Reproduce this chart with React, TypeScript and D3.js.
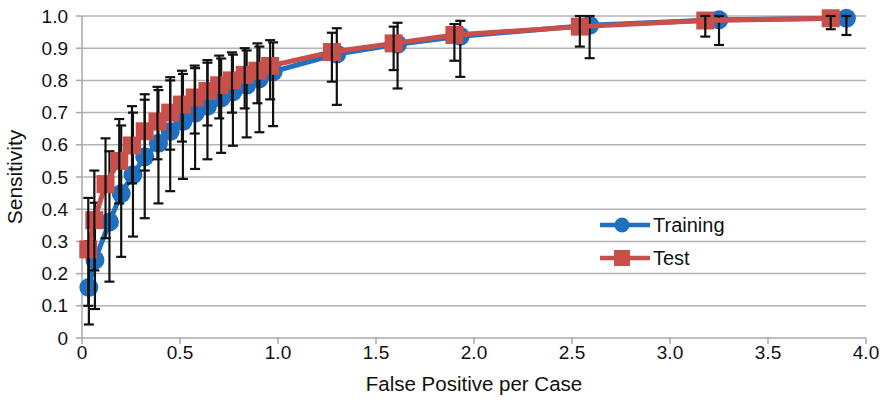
import React from "react";
import * as d3 from "d3";

// Training (blue circles)
const trainX = [0.035, 0.066, 0.14, 0.20, 0.26, 0.32, 0.39, 0.45, 0.515, 0.577, 0.64, 0.71, 0.77, 0.84, 0.905, 0.975, 1.30, 1.61, 1.93, 2.59, 3.25, 3.90];
const trainY = [0.157, 0.242, 0.36, 0.449, 0.507, 0.563, 0.605, 0.641, 0.672, 0.698, 0.72, 0.745, 0.765, 0.785, 0.805, 0.827, 0.882, 0.912, 0.937, 0.971, 0.988, 0.993];
const trainLo = [0.042, 0.09, 0.175, 0.252, 0.315, 0.372, 0.418, 0.456, 0.494, 0.525, 0.555, 0.575, 0.597, 0.623, 0.639, 0.658, 0.724, 0.775, 0.811, 0.869, 0.91, 0.941];
const trainHi = [0.30, 0.42, 0.58, 0.66, 0.70, 0.74, 0.77, 0.80, 0.82, 0.838, 0.855, 0.868, 0.88, 0.893, 0.905, 0.918, 0.962, 0.979, 0.985, 1.0, 1.0, 1.0];

// Test (red squares)
const testX = [0.032, 0.063, 0.12, 0.19, 0.255, 0.32, 0.385, 0.45, 0.51, 0.575, 0.64, 0.70, 0.765, 0.83, 0.895, 0.96, 1.275, 1.59, 1.90, 2.54, 3.18, 3.82];
const testY = [0.275, 0.366, 0.478, 0.55, 0.598, 0.642, 0.672, 0.70, 0.725, 0.747, 0.767, 0.785, 0.80, 0.817, 0.83, 0.845, 0.888, 0.915, 0.941, 0.967, 0.986, 0.993];
const testLo = [0.10, 0.21, 0.31, 0.418, 0.48, 0.52, 0.555, 0.585, 0.61, 0.635, 0.66, 0.682, 0.70, 0.713, 0.729, 0.741, 0.796, 0.832, 0.861, 0.905, 0.936, 0.959];
const testHi = [0.435, 0.52, 0.62, 0.68, 0.72, 0.757, 0.78, 0.81, 0.83, 0.846, 0.863, 0.877, 0.887, 0.90, 0.915, 0.925, 0.948, 0.967, 0.975, 1.0, 1.0, 1.0];

const xTicks = [0, 0.5, 1.0, 1.5, 2.0, 2.5, 3.0, 3.5, 4.0];
const xTickLabels = ["0", "0.5", "1.0", "1.5", "2.0", "2.5", "3.0", "3.5", "4.0"];
const yTicks = [0, 0.1, 0.2, 0.3, 0.4, 0.5, 0.6, 0.7, 0.8, 0.9, 1.0];
const yTickLabels = ["0", "0.1", "0.2", "0.3", "0.4", "0.5", "0.6", "0.7", "0.8", "0.9", "1.0"];
const seriesNames = ["Training", "Test"];

const BLUE = "#1f70c1";
const RED = "#c94f4a";
const FONT = "'Liberation Sans', Arial, Helvetica, sans-serif";

export default function App() {
  const W = 883, H = 402;
  const x = d3.scaleLinear().domain([0, 4]).range([82, 866]);
  const y = d3.scaleLinear().domain([0, 1]).range([338, 16]);

  const train = trainX.map((v, i) => ({ x: v, y: trainY[i], lo: trainLo[i], hi: trainHi[i] }));
  const test = testX.map((v, i) => ({ x: v, y: testY[i], lo: testLo[i], hi: testHi[i] }));

  const line = d3.line<{ x: number; y: number }>().x((d) => x(d.x)).y((d) => y(d.y));

  const errBars = (data: typeof train, key: string) =>
    data.map((d, i) => (
      <g key={key + i} stroke="#111" strokeWidth={2.2}>
        <line x1={x(d.x)} x2={x(d.x)} y1={y(d.lo)} y2={y(d.hi)} />
        <line x1={x(d.x) - 5} x2={x(d.x) + 5} y1={y(d.lo)} y2={y(d.lo)} />
        <line x1={x(d.x) - 5} x2={x(d.x) + 5} y1={y(d.hi)} y2={y(d.hi)} />
      </g>
    ));

  return (
    <svg width={W} height={H} style={{ position: "absolute", left: 0, top: 0, background: "#fff" }} fontFamily={FONT}>
      {/* gridlines */}
      {yTicks.slice(1).map((t) => (
        <line key={"g" + t} x1={x(0)} x2={x(4)} y1={y(t)} y2={y(t)} stroke="#b4b4b4" strokeWidth={1.5} />
      ))}
      {/* axes */}
      <line x1={x(0)} x2={x(4)} y1={y(0)} y2={y(0)} stroke="#a8a8a8" strokeWidth={1.5} />
      <line x1={x(0)} x2={x(0)} y1={y(0)} y2={y(1)} stroke="#a8a8a8" strokeWidth={1.5} />
      {yTicks.map((t, i) => (
        <g key={"yt" + t}>
          <line x1={x(0) - 6} x2={x(0)} y1={y(t)} y2={y(t)} stroke="#a8a8a8" strokeWidth={1.5} />
          <text x={68} y={y(t)} dy="0.35em" textAnchor="end" fontSize={19} fill="#111">
            {yTickLabels[i]}
          </text>
        </g>
      ))}
      {xTicks.map((t, i) => (
        <g key={"xt" + t}>
          <line x1={x(t)} x2={x(t)} y1={y(0)} y2={y(0) + 6} stroke="#a8a8a8" strokeWidth={1.5} />
          <text x={x(t)} y={359} textAnchor="middle" fontSize={19} fill="#111">
            {xTickLabels[i]}
          </text>
        </g>
      ))}
      <text x={474} y={391} textAnchor="middle" fontSize={20.5} fill="#111">
        False Positive per Case
      </text>
      <text transform={`translate(22,${y(0.5)}) rotate(-90)`} textAnchor="middle" fontSize={21} fill="#111">
        Sensitivity
      </text>

      {/* Training series */}
      <path d={line(train) || ""} fill="none" stroke={BLUE} strokeWidth={5} />
      {train.map((d, i) => (
        <circle key={"c" + i} cx={x(d.x)} cy={y(d.y)} r={9.5} fill={BLUE} />
      ))}
      {errBars(train, "te")}

      {/* Test series */}
      <path d={line(test) || ""} fill="none" stroke={RED} strokeWidth={5} />
      {test.map((d, i) => (
        <rect key={"s" + i} x={x(d.x) - 9} y={y(d.y) - 9} width={18} height={18} fill={RED} />
      ))}
      {errBars(test, "se")}

      {/* legend */}
      <g>
        <line x1={600} x2={650} y1={225} y2={225} stroke={BLUE} strokeWidth={4.5} />
        <circle cx={622} cy={225} r={7.5} fill={BLUE} />
        <text x={653} y={232} fontSize={20} fill="#111">{seriesNames[0]}</text>
        <line x1={600} x2={650} y1={258} y2={258} stroke={RED} strokeWidth={4.5} />
        <rect x={614} y={250} width={16} height={16} fill={RED} />
        <text x={653} y={265} fontSize={20} fill="#111">{seriesNames[1]}</text>
      </g>
    </svg>
  );
}
